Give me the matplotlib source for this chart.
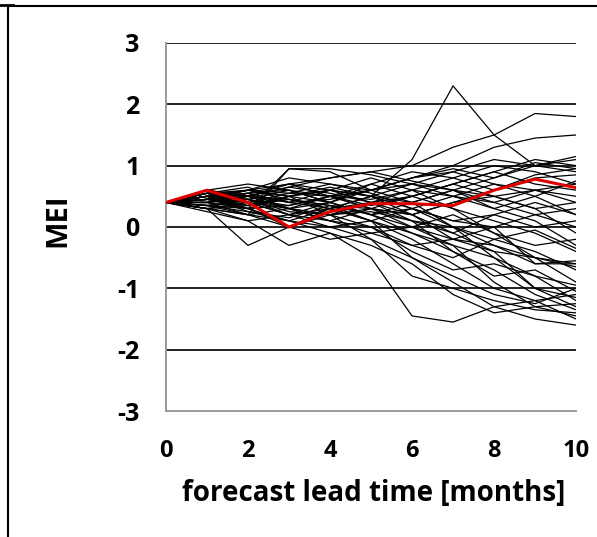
import matplotlib.pyplot as plt
from matplotlib.lines import Line2D

LEAD = [0, 1, 2, 3, 4, 5, 6, 7, 8, 9, 10]

# ensemble members (MEI forecast per lead month)
MEMBERS = [
    [0.4, 0.5, 0.55, 0.7, 0.6, 0.5, 1.1, 2.3, 1.5, 1.0, 0.9],
    [0.4, 0.45, 0.5, 0.65, 0.8, 0.9, 1.0, 1.3, 1.5, 1.85, 1.8],
    [0.4, 0.5, 0.6, 0.8, 0.7, 0.6, 0.8, 1.0, 1.3, 1.45, 1.5],
    [0.4, 0.35, 0.2, 0.95, 0.95, 0.85, 0.7, 0.9, 1.1, 1.0, 1.15],
    [0.4, 0.45, 0.3, 0.95, 0.9, 0.6, 0.4, 0.6, 0.8, 1.05, 0.95],
    [0.4, 0.3, -0.3, 0.0, 0.2, 0.3, 0.5, 0.7, 0.9, 1.1, 1.0],
    [0.4, 0.25, 0.1, -0.3, -0.1, -0.5, -1.45, -1.55, -1.3, -1.5, -1.6],
    [0.4, 0.5, 0.6, 0.5, 0.2, -0.2, -0.8, -1.0, -1.2, -1.35, -1.4],
    [0.4, 0.55, 0.65, 0.4, 0.3, 0.1, -0.2, -0.6, -1.0, -1.2, -1.1],
    [0.4, 0.6, 0.5, 0.3, 0.4, 0.2, 0.0, -0.3, -0.9, -1.3, -1.25],
    [0.4, 0.3, 0.2, 0.1, 0.0, -0.2, -0.5, -0.9, -1.3, -1.2, -1.5],
    [0.4, 0.45, 0.4, 0.2, 0.3, 0.5, 0.4, 0.0, -0.5, -1.0, -1.15],
    [0.4, 0.35, 0.3, 0.5, 0.6, 0.4, 0.1, -0.4, -0.8, -0.7, -1.05],
    [0.4, 0.5, 0.45, 0.6, 0.5, 0.3, 0.2, -0.1, -0.4, -0.5, -0.6],
    [0.4, 0.4, 0.55, 0.3, 0.1, 0.0, -0.3, -0.5, -0.2, -0.4, -0.7],
    [0.4, 0.55, 0.3, 0.0, 0.3, 0.5, 0.7, 0.6, 0.3, 0.1, -0.3],
    [0.4, 0.3, 0.1, 0.2, 0.4, 0.6, 0.8, 0.9, 0.7, 0.5, 0.2],
    [0.4, 0.45, 0.6, 0.7, 0.5, 0.45, 0.6, 0.8, 1.0, 0.9, 0.7],
    [0.4, 0.5, 0.35, 0.5, 0.4, 0.7, 0.9, 0.8, 0.6, 0.8, 0.85],
    [0.4, 0.35, 0.45, 0.2, 0.1, 0.3, 0.2, 0.4, 0.5, 0.3, 0.4],
    [0.4, 0.6, 0.7, 0.6, 0.4, 0.2, 0.3, 0.1, 0.2, 0.0, 0.1],
    [0.4, 0.4, 0.2, 0.0, -0.2, -0.1, 0.0, 0.2, -0.1, -0.3, -0.2],
    [0.4, 0.45, 0.5, 0.3, 0.2, 0.0, -0.4, -0.7, -0.6, -0.8, -0.95],
    [0.4, 0.3, 0.4, 0.55, 0.7, 0.55, 0.3, 0.0, -0.3, -0.6, -0.55],
    [0.4, 0.55, 0.5, 0.4, 0.6, 0.8, 0.6, 0.5, 0.7, 0.6, 0.5],
    [0.4, 0.5, 0.3, 0.1, -0.1, -0.3, -0.6, -1.1, -1.4, -1.3, -1.45],
    [0.4, 0.4, 0.5, 0.45, 0.3, 0.1, -0.1, -0.3, -0.5, -0.8, -1.2],
    [0.4, 0.5, 0.6, 0.55, 0.5, 0.35, 0.5, 0.3, 0.1, -0.1, -0.4],
    [0.4, 0.35, 0.25, 0.1, 0.3, 0.4, 0.2, -0.2, 0.0, 0.2, 0.3],
    [0.4, 0.45, 0.55, 0.4, 0.45, 0.6, 0.8, 0.95, 0.8, 1.0, 1.1],
    [0.4, 0.5, 0.4, 0.2, 0.0, 0.1, 0.3, 0.5, 0.4, 0.6, 0.7],
    [0.4, 0.4, 0.3, 0.35, 0.5, 0.3, 0.0, -0.2, -0.4, -1.0, -1.3],
    [0.4, 0.55, 0.45, 0.3, 0.2, 0.4, 0.6, 0.3, -0.1, -0.5, -0.9],
    [0.4, 0.3, 0.2, 0.3, 0.5, 0.7, 0.5, 0.7, 0.9, 0.7, 0.6],
    [0.4, 0.45, 0.35, 0.45, 0.35, 0.1, -0.5, -0.8, -1.1, -1.25, -1.0],
    [0.4, 0.6, 0.5, 0.7, 0.8, 0.9, 0.75, 0.6, 0.4, 0.2, 0.0],
    [0.4, 0.4, 0.45, 0.25, 0.2, 0.25, 0.1, -0.1, 0.2, 0.4, 0.2],
    [0.4, 0.5, 0.55, 0.6, 0.4, 0.2, 0.4, 0.6, 0.5, 0.3, -0.1],
    [0.4, 0.35, 0.4, 0.3, 0.1, -0.1, -0.3, -0.2, -0.3, -0.5, -0.65],
    [0.4, 0.45, 0.6, 0.5, 0.65, 0.5, 0.2, 0.4, 0.6, 0.85, 0.95],
    [0.4, 0.5, 0.25, 0.15, 0.35, 0.2, -0.1, -0.4, -0.7, -1.1, -1.35],
    [0.4, 0.4, 0.5, 0.65, 0.55, 0.4, 0.5, 0.7, 0.5, 0.6, 0.4],
    [0.4, 0.55, 0.6, 0.45, 0.35, 0.3, 0.1, 0.0, -0.2, -0.05, -0.35],
    [0.4, 0.3, 0.35, 0.5, 0.6, 0.5, 0.3, 0.1, 0.0, -0.6, -0.6],
    [0.4, 0.5, 0.45, 0.35, 0.5, 0.6, 0.7, 0.5, 0.3, 0.5, 0.75],
]
MEAN = [0.4, 0.6, 0.4, 0.0, 0.25, 0.38, 0.38, 0.35, 0.6, 0.78, 0.64]

X_TICKS = [0, 2, 4, 6, 8, 10]
Y_TICKS = [-3, -2, -1, 0, 1, 2, 3]
X_LABEL = 'forecast lead time [months]'
Y_LABEL = 'MEI'

plt.rcParams['font.family'] = ['Open Sans', 'DejaVu Sans']

fig = plt.figure(figsize=(5.97, 5.37), dpi=100)
ax = fig.add_axes([0.278, 0.2346, 0.687, 0.6854])

for y in Y_TICKS[1:]:
    ax.axhline(y, color='#222222', lw=1.4, zorder=1)

for m in MEMBERS:
    ax.plot(LEAD, m, color='black', lw=0.9, zorder=2)
ax.plot(LEAD, MEAN, color='#e00000', lw=2.2, zorder=3)

ax.set_xlim(0, 10)
ax.set_ylim(-3, 3)
ax.set_xticks(X_TICKS, labels=[str(v) for v in X_TICKS],
              fontsize=17, fontweight='bold')
ax.set_yticks(Y_TICKS, labels=[str(v) for v in Y_TICKS],
              fontsize=18, fontweight='bold')
ax.tick_params(length=0)
ax.tick_params(axis='x', pad=20)
ax.tick_params(axis='y', pad=19)

for s in ['top', 'right']:
    ax.spines[s].set_visible(False)
for s in ['left', 'bottom']:
    ax.spines[s].set_color('#9a9a9a')
    ax.spines[s].set_linewidth(1.4)

ax.set_xlabel(X_LABEL, fontsize=20, fontweight='bold')
ax.xaxis.set_label_coords(0.507, -0.185)
ax.set_ylabel(Y_LABEL, fontsize=21, fontweight='bold')
ax.yaxis.set_label_coords(-0.228, 0.519)

# cropped frame around the figure
fig.add_artist(Line2D([8/597, 1], [1 - 6/537, 1 - 6/537], color='black', lw=1.5))
fig.add_artist(Line2D([8/597, 8/597], [0, 1 - 6/537], color='black', lw=1.5))
fig.add_artist(Line2D([0, 13/597], [1 - 5/537, 1 - 5/537], color='black', lw=2))

fig.savefig('out.png', dpi=100)
